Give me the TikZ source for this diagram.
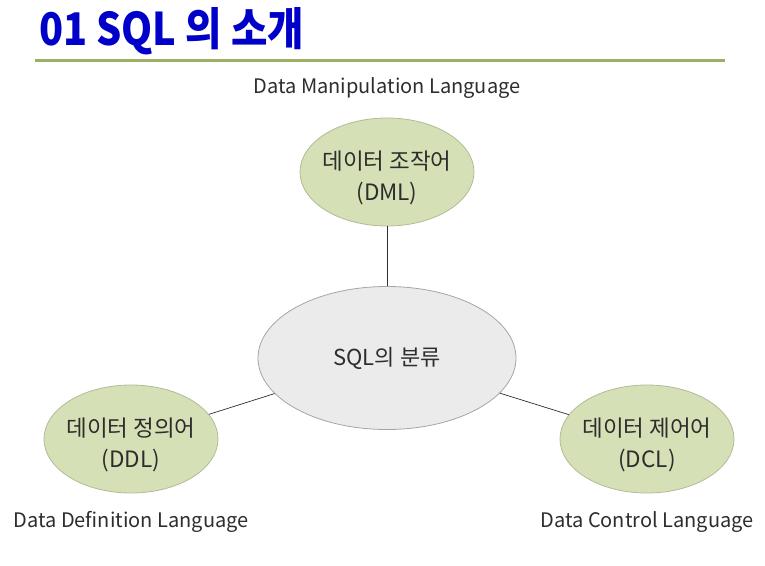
\documentclass[tikz,border=0pt]{standalone}
\usepackage{fontspec}
\usepackage{graphicx}
\setmainfont{Noto Sans CJK KR}
\usetikzlibrary{shapes.geometric}
\definecolor{titleblue}{RGB}{0,0,200}
\definecolor{rulegreen}{RGB}{155,176,96}
\definecolor{ellgreen}{RGB}{214,224,182}
\definecolor{ellgreenbd}{RGB}{176,188,150}
\definecolor{ellgray}{RGB}{235,235,235}
\definecolor{ellgraybd}{RGB}{165,165,165}
\definecolor{txt}{RGB}{45,45,45}
\tikzset{
  greenell/.style={ellipse, fill=ellgreen, draw=ellgreenbd, line width=0.8pt,
     minimum width=174pt, minimum height=108pt, inner sep=0pt},
  elltext/.style={align=center, inner sep=0pt, text=txt, yshift=-6pt,
     font=\fontsize{22.5}{31}\selectfont},
  grayell/.style={ellipse, fill=ellgray, draw=ellgraybd, line width=0.8pt,
     minimum width=258pt, minimum height=143pt, inner sep=0pt, align=center,
     text=txt, font=\fontsize{22}{26}\selectfont},
  caption/.style={text=txt, font=\fontsize{20}{22}\selectfont, inner sep=0pt},
  conn/.style={draw=txt, line width=0.7pt}
}
\begin{document}
\begin{tikzpicture}[x=1pt,y=-1pt]
\useasboundingbox (0,0) rectangle (765,565);
\node[anchor=west, inner sep=0pt, text=titleblue, font=\fontsize{45}{48}\selectfont\bfseries] (title) at (39,31) {\scalebox{0.88}[1]{01 SQL 의 소개}};
\coordinate (rl) at (35,60);
\coordinate (rr) at (725,60);
\draw[rulegreen, line width=3pt] (rl) -- (rr);
\node[caption] (capm) at (387,88) {Data Manipulation Language};
\node[greenell] (dml) at (387,172) {};
\node[elltext] (dmlt) at (dml.center) {데이터 조작어\\(DML)};
\node[grayell] (sql) at (387,358) {\raisebox{-2pt}{SQL의 분류}};
\node[greenell] (ddl) at (131,439) {};
\node[elltext] (ddlt) at (ddl.center) {데이터 정의어\\(DDL)};
\node[greenell] (dcl) at (647,439) {};
\node[elltext] (dclt) at (dcl.center) {데이터 제어어\\(DCL)};
\node[caption] (capd) at (131,522) {Data Definition Language};
\node[caption] (capc) at (647,522) {Data Control Language};
\draw[conn] (dml) -- (sql);
\draw[conn] (ddl) -- (sql);
\draw[conn] (dcl) -- (sql);
\end{tikzpicture}
\end{document}
